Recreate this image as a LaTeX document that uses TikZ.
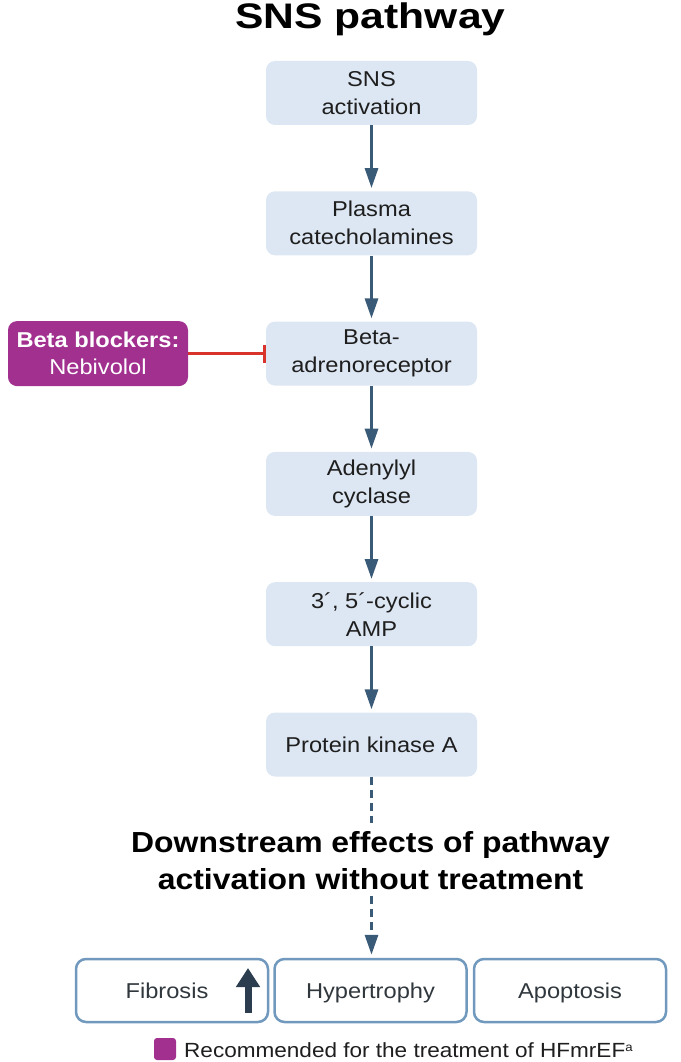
\documentclass[tikz,border=0pt]{standalone}
\usepackage{fontspec}
\setmainfont{Liberation Sans}[FakeStretch=1.1]
\newfontfamily\titlefont{Liberation Sans}[FakeStretch=1.2]
\usetikzlibrary{arrows.meta}
\definecolor{boxfill}{HTML}{DDE7F3}
\definecolor{arrowc}{HTML}{3A5B78}
\definecolor{purp}{HTML}{A1308F}
\definecolor{redl}{HTML}{D9342B}
\definecolor{outc}{HTML}{7099BD}
\definecolor{darkarr}{HTML}{2B3D4F}
\definecolor{txt}{HTML}{1E1E1E}
\definecolor{efftxt}{HTML}{30373D}
\begin{document}
\begin{tikzpicture}[x=1pt,y=-1pt,
  stepbox/.style={fill=boxfill,rounded corners=9pt,minimum width=211pt,minimum height=64pt,align=center,text=txt,font=\fontsize{21.5}{28}\selectfont,inner sep=0pt},
  effbox/.style={draw=outc,line width=2.5pt,fill=white,rounded corners=10pt,minimum width=192pt,minimum height=63pt,text=efftxt,font=\fontsize{21.5}{24}\selectfont,inner sep=0pt,text height=15.4pt,text depth=0pt},
  flow/.style={arrowc,line width=3pt,shorten >=3pt,-{Triangle[length=20pt,width=13pt]}},
  dflow/.style={arrowc,line width=3pt,dash pattern=on 8pt off 5pt},
  dflowa/.style={dflow,shorten >=3pt,-{Triangle[length=20pt,width=13pt]}}]
\useasboundingbox (0,0) rectangle (680,1062);
\node[font=\fontsize{35.5}{40}\selectfont\titlefont\bfseries,anchor=base,inner sep=0pt] (title) at (370.5,29) {SNS pathway};
\node[stepbox] (b1) at (371.5,93) {SNS\\activation};
\node[stepbox] (b2) at (371.5,223.3) {Plasma\\catecholamines};
\node[stepbox] (b3) at (371.5,353.6) {Beta-\\adrenoreceptor};
\node[stepbox] (b4) at (371.5,483.9) {Adenylyl\\cyclase};
\node[stepbox] (b5) at (371.5,614.2) {3´, 5´-cyclic\\AMP};
\node[stepbox] (b6) at (371.5,744.5) {Protein kinase A};
\draw[flow] (b1) -- (b2);
\draw[flow] (b2) -- (b3);
\draw[flow] (b3) -- (b4);
\draw[flow] (b4) -- (b5);
\draw[flow] (b5) -- (b6);
\node[fill=purp,rounded corners=9pt,minimum width=180pt,minimum height=65pt,align=center,text=white,font=\fontsize{21.5}{27}\selectfont,inner sep=0pt] (bb) at (98,353.6) {\textbf{Beta blockers:}\\Nebivolol};
\draw[redl,line width=3pt,-{Bar[width=18pt,line width=3pt]}] (bb.east) -- (b3.west);
\node[font=\fontsize{29}{37}\selectfont\bfseries,align=center,inner sep=0pt] (down) at (370.5,861) {Downstream effects of pathway\\activation without treatment};
\coordinate (d1) at (371.5,823);
\coordinate (d2) at (371.5,896);
\node[effbox] (fib) at (172,990.5) {Fibrosis\hspace*{10pt}};
\node[effbox] (hyp) at (370.5,990.5) {Hypertrophy};
\node[effbox] (apo) at (570,990.5) {Apoptosis};
\draw[dflow] (b6.south) -- (d1);
\draw[dflowa] (d2) -- (d2 |- hyp.north);
\coordinate (ua) at (248,1013);
\coordinate (ub) at (248,968);
\draw[darkarr,line width=7pt,-{Triangle[length=19pt,width=23pt]}] (ua) -- (ub);
\node[fill=purp,rounded corners=3pt,minimum size=22pt,inner sep=0pt] (leg) at (165,1049) {};
\node[anchor=base west,font=\fontsize{20.5}{24}\selectfont,text=txt,inner sep=0pt] (legt) at (184,1057.5) {Recommended for the treatment of HFmrEF{\fontsize{12}{12}\selectfont\raisebox{6pt}{a}}};
\end{tikzpicture}
\end{document}
